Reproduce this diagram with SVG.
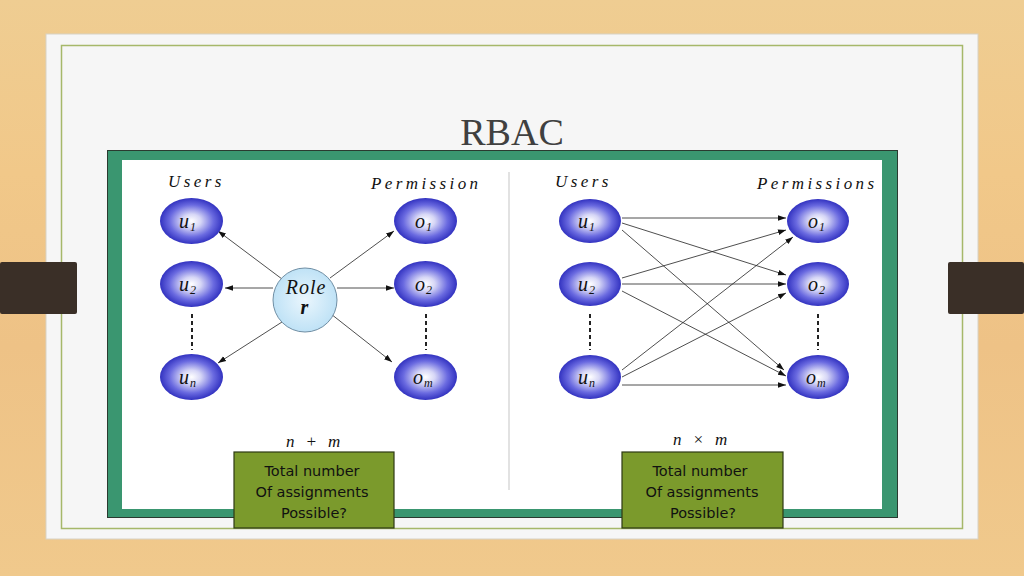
<svg xmlns="http://www.w3.org/2000/svg" width="1024" height="576" viewBox="0 0 1024 576">
<defs>
<linearGradient id="wood" x1="0" y1="0" x2="0" y2="1">
<stop offset="0" stop-color="#efcd92"/><stop offset="0.3" stop-color="#f1c889"/><stop offset="0.6" stop-color="#eec286"/><stop offset="1" stop-color="#f0c98c"/>
</linearGradient>
<radialGradient id="ball" cx="0.5" cy="0.5" r="0.5">
<stop offset="0" stop-color="#ffffff"/><stop offset="0.3" stop-color="#d6d6f6"/><stop offset="0.7" stop-color="#6a6ae0"/><stop offset="1" stop-color="#3232c0"/>
</radialGradient>
<radialGradient id="role" cx="0.5" cy="0.5" r="0.5">
<stop offset="0" stop-color="#eaf6fd"/><stop offset="1" stop-color="#bfe2f6"/>
</radialGradient>
<marker id="ah" viewBox="0 0 10 10" refX="10" refY="5" markerWidth="8" markerHeight="8" markerUnits="userSpaceOnUse" orient="auto">
<path d="M0,1.5 L10,5 L0,8.5 z" fill="#111"/>
</marker>
<style>
.lbl{font-family:"Liberation Serif",serif;font-style:italic;font-size:17px;letter-spacing:3.4px;fill:#111}
.nt{font-family:"Liberation Serif",serif;font-style:italic;font-size:20px;letter-spacing:1px;fill:#111}
.sub{font-size:12px}
.ln{stroke:#222;stroke-width:0.8;fill:none;marker-end:url(#ah)}
.dash{stroke:#222;stroke-width:2;stroke-dasharray:4,3}
.box{fill:#7b9a2c;stroke:#2e3a14;stroke-width:1.2}
.bt{font-family:"DejaVu Sans",sans-serif;font-size:14.5px;fill:#111;text-anchor:middle}
.tab{fill:#3a2f27}
</style>
</defs>
<rect width="1024" height="576" fill="url(#wood)"/>
<rect x="46" y="34" width="932" height="505" fill="#f6f6f6" stroke="#d8d2c4" stroke-width="1"/>
<rect x="61.5" y="45.5" width="901" height="483" fill="none" stroke="#a6b86a" stroke-width="1.5"/>
<rect class="tab" x="0" y="262" width="77" height="52" rx="2"/>
<rect class="tab" x="948" y="262" width="76" height="52" rx="2"/>
<text x="512" y="145" font-family="Liberation Serif,serif" font-size="38" fill="#404040" text-anchor="middle">RBAC</text>
<rect x="107.5" y="150.5" width="790" height="367" fill="#3a9670" stroke="#2a3a30" stroke-width="1"/>
<rect x="122" y="160" width="760" height="349" fill="#ffffff"/>
<line x1="509" y1="172" x2="509" y2="490" stroke="#cfcfcf" stroke-width="1.2"/>

<g id="labels">
<text class="lbl" x="168" y="187">Users</text>
<text class="lbl" x="371" y="189">Permission</text>
<text class="lbl" x="555" y="187">Users</text>
<text class="lbl" x="757" y="189">Permissions</text>
<text class="lbl" x="286" y="447" font-size="19" letter-spacing="1.2">n + m</text>
<text class="lbl" x="673" y="445" font-size="19" letter-spacing="1.2">n × m</text>
</g>

<g id="connectors">
<line class="ln" x1="282" y1="279" x2="218" y2="231"/>
<line class="ln" x1="273" y1="288" x2="225" y2="288"/>
<line class="ln" x1="282" y1="322" x2="218" y2="363"/>
<line class="ln" x1="330" y1="278" x2="394" y2="231"/>
<line class="ln" x1="337" y1="288" x2="394" y2="288"/>
<line class="ln" x1="331" y1="314" x2="392" y2="362"/>
<line class="dash" x1="192" y1="314" x2="192" y2="350"/>
<line class="dash" x1="426" y1="314" x2="426" y2="350"/>

<line class="ln" x1="622" y1="218" x2="786" y2="218"/>
<line class="ln" x1="622" y1="223" x2="786" y2="275"/>
<line class="ln" x1="622" y1="230" x2="784" y2="370"/>
<line class="ln" x1="622" y1="278" x2="786" y2="230"/>
<line class="ln" x1="622" y1="284" x2="786" y2="284"/>
<line class="ln" x1="622" y1="291" x2="786" y2="376"/>
<line class="ln" x1="622" y1="370" x2="793" y2="237"/>
<line class="ln" x1="622" y1="377" x2="786" y2="293"/>
<line class="ln" x1="622" y1="385" x2="786" y2="385"/>
<line class="dash" x1="590" y1="314" x2="590" y2="350"/>
<line class="dash" x1="818" y1="314" x2="818" y2="350"/>
</g>

<g id="u1L"><ellipse cx="191.5" cy="221" rx="31.5" ry="23" fill="url(#ball)"/><text class="nt" x="179" y="228">u<tspan class="sub" dy="3">1</tspan></text></g>
<g id="u2L"><ellipse cx="191.5" cy="284" rx="31.5" ry="23" fill="url(#ball)"/><text class="nt" x="179" y="291">u<tspan class="sub" dy="3">2</tspan></text></g>
<g id="unL"><ellipse cx="191.5" cy="377" rx="31.5" ry="23" fill="url(#ball)"/><text class="nt" x="179" y="384">u<tspan class="sub" dy="3">n</tspan></text></g>
<g id="o1L"><ellipse cx="425.5" cy="221" rx="31.5" ry="23" fill="url(#ball)"/><text class="nt" x="415" y="228">o<tspan class="sub" dy="3">1</tspan></text></g>
<g id="o2L"><ellipse cx="425.5" cy="284" rx="31.5" ry="23" fill="url(#ball)"/><text class="nt" x="415" y="291">o<tspan class="sub" dy="3">2</tspan></text></g>
<g id="omL"><ellipse cx="425.5" cy="377" rx="31.5" ry="23" fill="url(#ball)"/><text class="nt" x="413" y="384">o<tspan class="sub" dy="3">m</tspan></text></g>
<g id="role"><circle cx="305" cy="300" r="32" fill="url(#role)" stroke="#6f8ea4" stroke-width="1"/><text class="nt" x="306" y="294" text-anchor="middle" font-size="16">Role</text><text class="nt" x="305" y="314" text-anchor="middle" font-weight="bold" font-size="16">r</text></g>

<g id="u1R"><ellipse cx="590" cy="221" rx="31" ry="22" fill="url(#ball)"/><text class="nt" x="578" y="228">u<tspan class="sub" dy="3">1</tspan></text></g>
<g id="u2R"><ellipse cx="590" cy="284" rx="31" ry="22" fill="url(#ball)"/><text class="nt" x="578" y="291">u<tspan class="sub" dy="3">2</tspan></text></g>
<g id="unR"><ellipse cx="590" cy="377" rx="31" ry="22" fill="url(#ball)"/><text class="nt" x="578" y="384">u<tspan class="sub" dy="3">n</tspan></text></g>
<g id="o1R"><ellipse cx="818" cy="221" rx="31" ry="22" fill="url(#ball)"/><text class="nt" x="808" y="228">o<tspan class="sub" dy="3">1</tspan></text></g>
<g id="o2R"><ellipse cx="818" cy="284" rx="31" ry="22" fill="url(#ball)"/><text class="nt" x="808" y="291">o<tspan class="sub" dy="3">2</tspan></text></g>
<g id="omR"><ellipse cx="818" cy="377" rx="31" ry="22" fill="url(#ball)"/><text class="nt" x="806" y="384">o<tspan class="sub" dy="3">m</tspan></text></g>

<g id="boxL"><rect class="box" x="234" y="452" width="160" height="76"/>
<text class="bt" x="312" y="476">Total number</text><text class="bt" x="312" y="497">Of assignments</text><text class="bt" x="314" y="518">Possible?</text></g>
<g id="boxR"><rect class="box" x="622" y="452" width="161" height="76"/>
<text class="bt" x="700" y="476">Total number</text><text class="bt" x="702" y="497">Of assignments</text><text class="bt" x="703" y="518">Possible?</text></g>
</svg>
